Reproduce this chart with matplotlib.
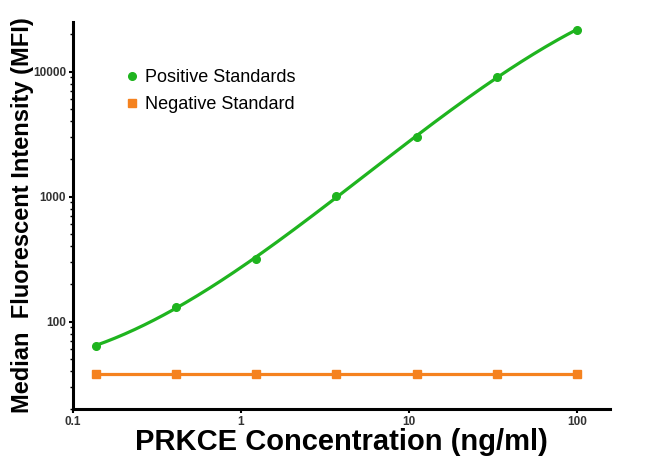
import numpy as np
import matplotlib
matplotlib.use("Agg")
import matplotlib.pyplot as plt
from matplotlib.ticker import FixedLocator, LogLocator, NullFormatter, NullLocator

plt.rcParams['font.family'] = ['Liberation Sans', 'DejaVu Sans']

# standards: 3-fold dilution series (ng/ml)
conc = [0.137, 0.41, 1.23, 3.7, 11.1, 33.3, 100]
positive_mfi = [64, 132, 318, 1010, 3020, 9100, 21700]
negative_mfi = [38.4, 38.4, 38.4, 38.4, 38.4, 38.4, 38.4]

x_ticks = [0.1, 1, 10, 100]
x_tick_labels = ['0.1', '1', '10', '100']
y_ticks = [100, 1000, 10000]
y_tick_labels = ['100', '1000', '10000']

GREEN = '#1fb41f'
ORANGE = '#f5821f'

fig = plt.figure(figsize=(6.5, 4.69), dpi=100)
ax = fig.add_axes([0.1123, 0.128, 0.826, 0.825])

# smooth standard curve: cubic fit in log-log space
lx = np.log10(conc)
ly = np.log10(positive_mfi)
coef = np.polyfit(lx, ly, 3)
xs = np.linspace(lx[0], lx[-1], 200)
ax.plot(10 ** xs, 10 ** np.polyval(coef, xs), color=GREEN, lw=2.3, zorder=3)
ax.plot(conc, positive_mfi, 'o', color=GREEN, ms=5.5, zorder=4,
        label='Positive Standards')

ax.plot(conc, negative_mfi, '-', color=ORANGE, lw=2.3, zorder=3)
ax.plot(conc, negative_mfi, 's', color=ORANGE, ms=5.5, zorder=4,
        label='Negative Standard')

ax.set_xscale('log')
ax.set_yscale('log')
ax.set_xlim(0.1, 157)
ax.set_ylim(20, 25000)

ax.xaxis.set_major_locator(FixedLocator(x_ticks))
ax.set_xticklabels(x_tick_labels)
ax.xaxis.set_minor_locator(NullLocator())
ax.yaxis.set_major_locator(FixedLocator(y_ticks))
ax.set_yticklabels(y_tick_labels)
ax.yaxis.set_minor_locator(LogLocator(base=10, subs=np.arange(2, 10)))
ax.yaxis.set_minor_formatter(NullFormatter())

for side in ['top', 'right']:
    ax.spines[side].set_visible(False)
for side in ['left', 'bottom']:
    ax.spines[side].set_linewidth(2.2)

ax.tick_params(which='major', direction='out', length=3, width=1.5,
               labelsize=8.5, pad=2)
ax.tick_params(which='minor', direction='out', length=2, width=1)
for lab in ax.get_xticklabels() + ax.get_yticklabels():
    lab.set_fontweight('bold')
    lab.set_color('#333333')

ax.set_xlabel('PRKCE Concentration (ng/ml)', fontsize=21, fontweight='bold',
              labelpad=0)
ax.set_ylabel('Median  Fluorescent Intensity (MFI)', fontsize=17,
              fontweight='bold')
ax.yaxis.set_label_coords(-0.073, 0.5)

ax.legend(loc='upper left', bbox_to_anchor=(0.065, 0.92), frameon=False,
          fontsize=13, handletextpad=0.25, handlelength=0.9, labelspacing=0.55,
          markerscale=1.0)

fig.savefig('out.png', dpi=100)
